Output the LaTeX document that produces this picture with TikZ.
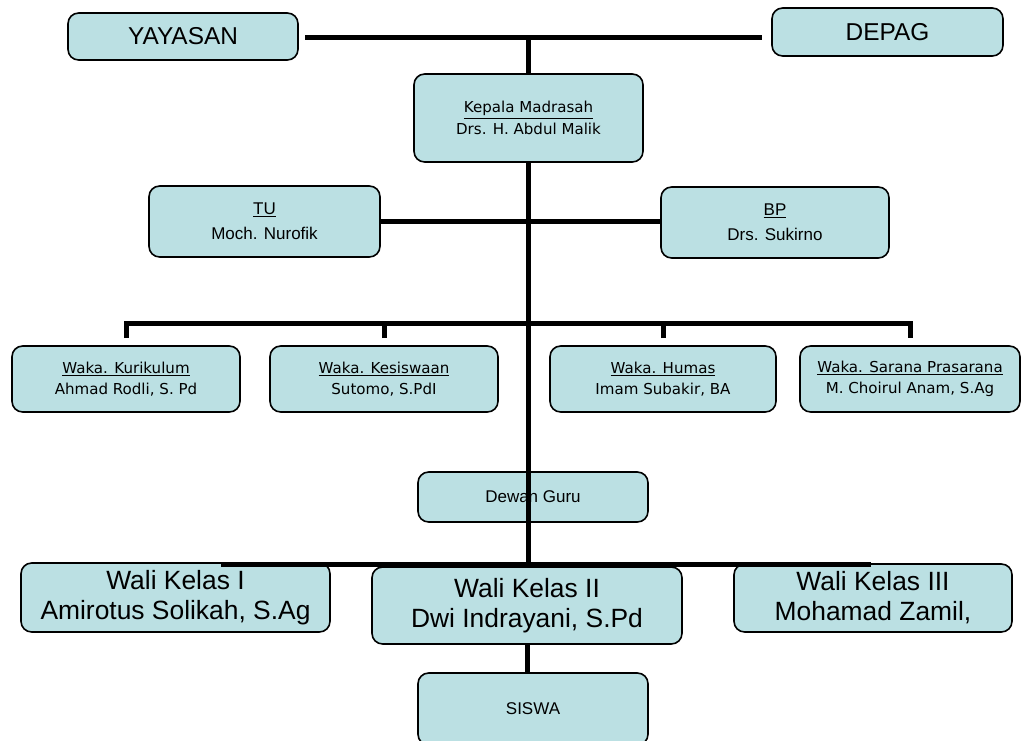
\documentclass[tikz,border=0pt]{standalone}
\usepackage{fontspec}
\setmainfont{Liberation Sans}
\newfontfamily\tahoma{DejaVu Sans}
\definecolor{boxfill}{HTML}{BBE0E3}
\tikzset{
  box/.style={draw, line width=1.2pt, fill=boxfill, rounded corners=8pt, align=center, inner sep=1pt},
  head/.style={box, font=\fontsize{18.3}{21}\selectfont},
  big/.style={box, font=\fontsize{19.8}{22.5}\selectfont},
  mid/.style={box, font=\fontsize{12.75}{19}\selectfont},
  small/.style={box, font=\tahoma\fontsize{11.3}{16}\selectfont},
  bar/.style={line width=3.75pt},
}
\begin{document}
\begin{tikzpicture}[x=0.75pt,y=-0.75pt]
    \useasboundingbox (0,0) rectangle (1021,740);
    \node[head, minimum width=172.5pt, minimum height=35.25pt] (yay) at (183,36.5) {YAYASAN};
    \node[head, minimum width=173.25pt, minimum height=36pt] (dep) at (887.5,32) {DEPAG};
    \node[small, minimum width=171.75pt, minimum height=66pt] (kep) at (528.5,118) {\underline{Kepala Madrasah}\\Drs. H. Abdul Malik};
    \node[mid, minimum width=173.25pt, minimum height=53.25pt] (tu) at (264.5,221.5) {\underline{TU}\\Moch. Nurofik};
    \node[mid, minimum width=171pt, minimum height=53.25pt] (bp) at (775,222.5) {\underline{BP}\\Drs. Sukirno};
    % waka
    \node[small, minimum width=171pt, minimum height=49.5pt] (kur) at (126,379) {\underline{Waka. Kurikulum}\\Ahmad Rodli, S. Pd};
    \node[small, minimum width=171pt, minimum height=49.5pt] (kes) at (384,379) {\underline{Waka. Kesiswaan}\\Sutomo, S.PdI};
    \node[small, minimum width=169.5pt, minimum height=49.5pt] (hum) at (663,379) {\underline{Waka. Humas}\\Imam Subakir, BA};
    \node[small, minimum width=165pt, minimum height=49.5pt] (sar) at (910,379) {\underline{Waka. Sarana Prasarana}\\M. Choirul Anam, S.Ag};
    \node[mid, minimum width=172.5pt, minimum height=37.5pt] (dew) at (533,497) {Dewan Guru};
    % wali kelas
    \node[big, minimum width=231.75pt, minimum height=51.75pt] (wk1) at (175.5,597.5) {Wali Kelas I\\Amirotus Solikah, S.Ag};
    \node[big, minimum width=232.5pt, minimum height=57.75pt] (wk2) at (527,605.5) {Wali Kelas II\\Dwi Indrayani, S.Pd};
    \node[big, minimum width=208.5pt, minimum height=51pt] (wk3) at (873,598) {Wali Kelas III\\Mohamad Zamil,};
    \node[mid, minimum width=172.5pt, minimum height=54pt] (sis) at (533,709) {SISWA};
    % garis
    \coordinate (tl) at (305,37);
    \coordinate (tr) at (762,37);
    \coordinate (wbus) at (528,323);
    \coordinate (bl) at (221,564);
    \coordinate (br) at (871,564);
    \draw[bar] (tl) -- (tr);
    \draw[bar] (kep.north) -- (kep.north |- tl);
    \draw[bar] (tu.east) -- (tu.east -| bp.west);
    \draw[bar] ([yshift=5.25pt]kur.north) -- (kur.north |- wbus) -- (sar.north |- wbus) -- ([yshift=5.25pt]sar.north);
    \draw[bar] ([yshift=5.25pt]kes.north) -- (kes.north |- wbus);
    \draw[bar] ([yshift=5.25pt]hum.north) -- (hum.north |- wbus);
    \draw[bar] (bl) -- (br);
    \draw[bar] (kep.south) -- (kep.south |- bl);
    \draw[bar] (wk2.south) -- (wk2.south |- sis.north);
\end{tikzpicture}
\end{document}
